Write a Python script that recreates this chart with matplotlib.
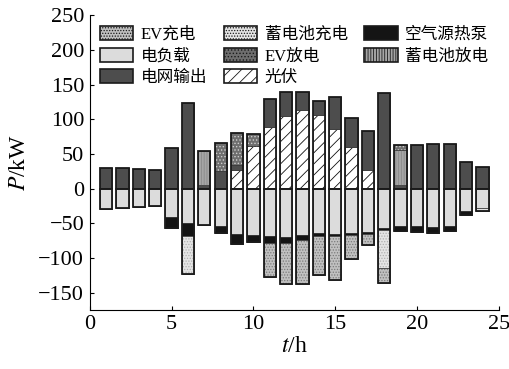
import matplotlib
matplotlib.use("Agg")
import matplotlib.pyplot as plt
import matplotlib.colors as mcolors
import numpy as np

plt.rcParams['font.family'] = ['Liberation Serif', 'Noto Sans CJK SC']
plt.rcParams['mathtext.fontset'] = 'stix'
plt.rcParams['hatch.linewidth'] = 0.6

hours = np.arange(1, 25)

# supply side (positive), kW
pv = [0, 0, 0, 0, 0, 0, 0, 0, 27, 62, 89, 105, 113.6, 106, 85.7, 60, 27, 0, 0, 0, 0, 0, 0, 0]
grid = [30, 30, 28, 27.5, 58.7, 124, 4.8, 25.4, 6.8, 0, 40, 33.8, 25, 19.8, 47, 42.5, 56, 137.7, 6, 62.6, 65, 64, 39, 31.8]
bat_dis = [0, 0, 0, 0, 0, 0, 49.6, 0, 0, 0, 0, 0, 0, 0, 0, 0, 0, 0, 49.6, 0, 0, 0, 0, 0]
ev_dis = [0, 0, 0, 0, 0, 0, 0, 41, 46, 16.5, 0, 0, 0, 0, 0, 0, 0, 0, 7, 0, 0, 0, 0, 0]

# demand side (drawn negative), kW
load = [29, 28, 26, 25, 41, 49, 52.6, 54, 64.6, 66, 68.5, 69.4, 67, 63.6, 64.6, 63.6, 62, 56.4, 54, 54, 55, 54, 32.4, 27.5]
heat_pump = [0, 0, 0, 0, 16, 19.5, 0, 10, 14.4, 11, 9.5, 8.7, 6.2, 4.9, 3.9, 2.9, 2.9, 3.4, 6.2, 7.7, 8.7, 6.2, 4.8, 0]
bat_chg = [0, 0, 0, 0, 0, 54.5, 0, 0, 0, 0, 0, 0, 0, 0, 0, 0, 0, 54, 0, 0, 0, 0, 0, 3.9]
ev_chg = [0, 0, 0, 0, 0, 0, 0, 0, 0, 0, 49, 58.8, 63.6, 55.3, 62.6, 34.2, 16.5, 21.7, 0, 0, 0, 0, 0, 0]

w = 0.75
fig = plt.figure(figsize=(5.1, 3.69), dpi=100)
ax = fig.add_axes([0.176, 0.161, 0.802, 0.798])

def stack(series, sign):
    base = np.zeros(len(hours))
    out = {}
    for key, vals, fc, hatch, hc in series:
        v = np.asarray(vals, dtype=float) * sign
        bars = ax.bar(hours, v, w, bottom=base, facecolor=fc, edgecolor='#333333',
                      linewidth=0.5, hatch=hatch)
        for p in bars:
            p._hatch_color = mcolors.to_rgba(hc)
        out[key] = bars
        base = base + v
    ax.bar(hours, base, w, fill=False, edgecolor='#1a1a1a', linewidth=1.3)
    return out

h = {}
h.update(stack([
    ('光伏', pv, 'white', '///', '#111111'),
    ('电网输出', grid, '#4d4d4d', None, '#4d4d4d'),
    ('蓄电池放电', bat_dis, '#a6a6a6', '||||||', '#8a8a8a'),
    ('EV放电', ev_dis, '#6e6e6e', '.....', '#cfcfcf'),
], 1))
h.update(stack([
    ('电负载', load, '#dcdcdc', None, '#dcdcdc'),
    ('空气源热泵', heat_pump, '#141414', None, '#141414'),
    ('蓄电池充电', bat_chg, '#e4e4e4', '......', '#b0b0b0'),
    ('EV充电', ev_chg, '#c0c0c0', '......', '#7a7a7a'),
], -1))

order = ['EV充电', '电负载', '电网输出', '蓄电池充电', 'EV放电', '光伏', '空气源热泵', '蓄电池放电']
leg = ax.legend([h[k] for k in order], order, loc='upper left', bbox_to_anchor=(0.0, 0.997),
                ncol=3, frameon=False, fontsize=12, handlelength=2.0, handleheight=0.9,
                handletextpad=0.45, columnspacing=1.0, labelspacing=0.3, borderaxespad=0.2)
for p in leg.get_patches():
    p.set_edgecolor('#1a1a1a')
    p.set_linewidth(1.2)

ax.set_xlim(0, 25)
ax.set_ylim(-174, 250)
ax.set_xticks(np.arange(0, 26, 5))
ax.set_yticks(np.arange(-150, 251, 50))
ax.spines['top'].set_visible(False)
ax.spines['right'].set_visible(False)
ax.tick_params(direction='in', labelsize=16, length=3, pad=4)
ax.set_xlabel('$t$/h', fontsize=17, labelpad=1)
ax.set_ylabel('$P$/kW', fontsize=17, labelpad=6)

fig.savefig('out.png', dpi=100)
